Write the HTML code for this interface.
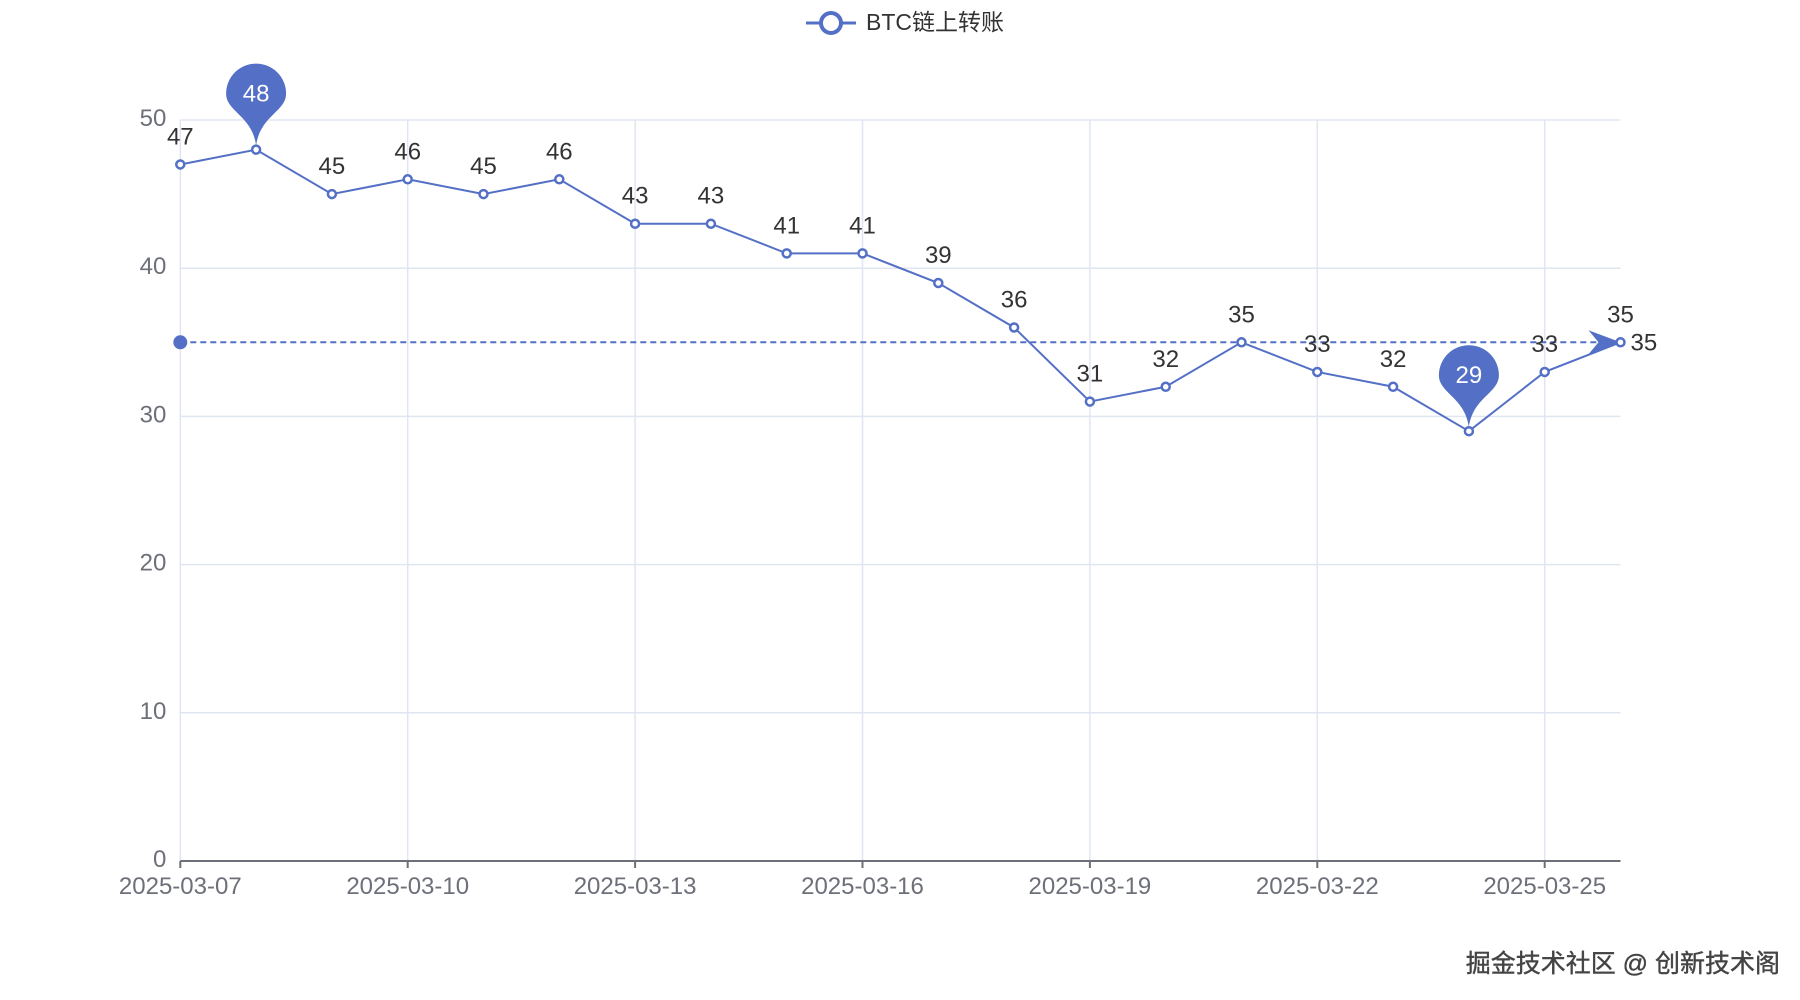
<!DOCTYPE html>
<html><head><meta charset="utf-8"><style>
html,body{margin:0;padding:0;background:#fff;width:1800px;height:1000px;overflow:hidden}
svg{display:block;font-family:"Liberation Sans","Noto Sans CJK SC",sans-serif}
</style></head><body>
<svg id="chart" width="1800" height="1000" viewBox="0 0 1800 1000">
  <g>
    <line x1="806" y1="23" x2="856" y2="23" stroke="#5470c6" stroke-width="3"/>
    <circle cx="831" cy="23" r="10" fill="#fff" stroke="#5470c6" stroke-width="4"/>
    <text x="866" y="30" font-size="23" fill="#333">BTC链上转账</text>
  </g>
  <g id="grid"></g>
  <g id="axes"></g>
  <g id="series"></g>
  <text x="1780" y="972" font-size="25" text-anchor="end" fill="#444" stroke="#444" stroke-width="0.4">掘金技术社区 @ 创新技术阁</text>
</svg>
<script>
const categories = ["2025-03-07","2025-03-08","2025-03-09","2025-03-10","2025-03-11","2025-03-12","2025-03-13","2025-03-14","2025-03-15","2025-03-16","2025-03-17","2025-03-18","2025-03-19","2025-03-20","2025-03-21","2025-03-22","2025-03-23","2025-03-24","2025-03-25","2025-03-26"];
const values = [47,48,45,46,45,46,43,43,41,41,39,36,31,32,35,33,32,29,33,35];
const yTicks = [0,10,20,30,40,50];
const avgValue = 35;

const NS = "http://www.w3.org/2000/svg";
const X0 = 180.3, DX = 75.8, Y0 = 861, YTOP = 120, YMAX = 50, XEND = X0 + DX*(categories.length-1);
const C = "#5470c6";
function xs(i){ return X0 + i*DX; }
function ys(v){ return Y0 - (v/YMAX)*(Y0-YTOP); }
function mk(tag, attrs, parent){ const e=document.createElementNS(NS,tag); for(const k in attrs) e.setAttribute(k,attrs[k]); parent.appendChild(e); return e; }

const grid = document.getElementById('grid'), axes = document.getElementById('axes'), series = document.getElementById('series');

yTicks.forEach(t=>{
  if(t>0){
    const l = mk('line',{x1:X0,x2:XEND,y1:ys(t),y2:ys(t),stroke:'#e0e6f1','stroke-width':1.5},grid);
    
    
  }
  const tx = mk('text',{x:X0-14,y:ys(t)+6,'font-size':24,'text-anchor':'end',fill:'#6e7079'},axes);
  tx.textContent = t;
  
  
});
categories.forEach((c,i)=>{
  if(i%3!==0) return;
  const g = mk('line',{x1:xs(i),x2:xs(i),y1:YTOP,y2:Y0,stroke:'#e0e6f1','stroke-width':1.5},grid);
  
  
  const tk = mk('line',{x1:xs(i),x2:xs(i),y1:Y0,y2:Y0+7,stroke:'#6e7079','stroke-width':2},axes);
  
  
  const tx = mk('text',{x:xs(i),y:Y0+33,'font-size':24,'text-anchor':'middle',fill:'#6e7079'},axes);
  tx.textContent = c;
  
  
});
const ax = mk('line',{x1:X0,x2:XEND,y1:Y0,y2:Y0,stroke:'#6e7079','stroke-width':2},axes);



const ay = ys(avgValue);
const al = mk('line',{x1:X0,x2:XEND-8,y1:ay,y2:ay,stroke:C,'stroke-width':2,'stroke-dasharray':'6,4'},series);


const ad = mk('circle',{cx:X0,cy:ay,r:7,fill:C},series);


const ar = mk('path',{d:`M${XEND} ${ay} L${XEND-32} ${ay-12} L${XEND-22} ${ay} L${XEND-32} ${ay+12} Z`,fill:C},series);


const alab = mk('text',{x:XEND+10,y:ay+8,'font-size':24,fill:'#333'},series);
alab.textContent = avgValue;



const pl = mk('polyline',{points:values.map((v,i)=>xs(i)+','+ys(v)).join(' '),fill:'none',stroke:C,'stroke-width':2},series);



const maxIdx = values.indexOf(Math.max(...values));
const minIdx = values.indexOf(Math.min(...values));
values.forEach((v,i)=>{
  if(i===maxIdx || i===minIdx) return;
  const lb = mk('text',{x:xs(i),y:ys(v)-20,'font-size':24,'text-anchor':'middle',fill:'#333'},series);
  lb.textContent = v;
  
  
});
values.forEach((v,i)=>{
  const p = mk('circle',{cx:xs(i),cy:ys(v),r:4,fill:'#fff',stroke:C,'stroke-width':2.5},series);
  
  
});

function pin(idx, name){
  const x = xs(idx), y = ys(values[idx]);
  const r = 30, cy = y - 56;
  const g = mk('g',{},series);
  
  
  mk('path',{d:`M${x} ${y-4} C${x-4} ${cy+22} ${x-r} ${cy+18} ${x-r} ${cy} A${r} ${r} 0 1 1 ${x+r} ${cy} C${x+r} ${cy+18} ${x+4} ${cy+22} ${x} ${y-4} Z`,fill:C},g);
  const t = mk('text',{x:x,y:cy+8,'font-size':24,'text-anchor':'middle',fill:'#fff'},g);
  t.textContent = values[idx];
}
pin(maxIdx,'max-pin');
pin(minIdx,'min-pin');
</script>
</body></html>
